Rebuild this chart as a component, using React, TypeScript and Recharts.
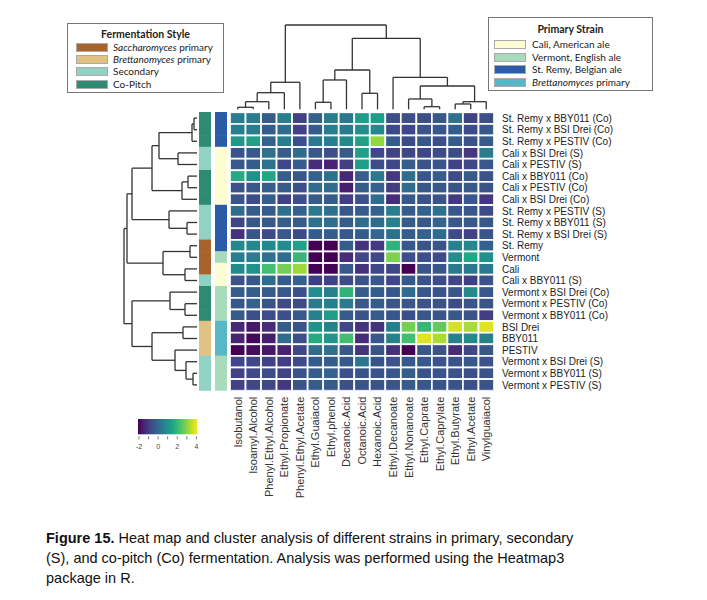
import React from "react";
import { ScatterChart, Scatter, XAxis, YAxis, ReferenceLine } from "recharts";

// heat map columns (compounds) in dendrogram order
const compounds = [
  "Isobutanol", "Isoamyl.Alcohol", "Phenyl.Ethyl.Alcohol", "Ethyl.Propionate",
  "Phenyl.Ethyl.Acetate", "Ethyl.Guaiacol", "Ethyl.phenol", "Decanoic.Acid",
  "Octanoic.Acid", "Hexanoic.Acid", "Ethyl.Decanoate", "Ethyl.Nonanoate",
  "Ethyl.Caprate", "Ethyl.Caprylate", "Ethyl.Butyrate", "Ethyl.Acetate", "Vinylguaiacol",
];

// heat map rows (samples), top to bottom
const samples = [
  "St. Remy x BBY011 (Co)", "St. Remy x BSI Drei (Co)", "St. Remy x PESTIV (Co)",
  "Cali x BSI Drei (S)", "Cali x PESTIV (S)", "Cali x BBY011 (Co)", "Cali x PESTIV (Co)",
  "Cali x BSI Drei (Co)", "St. Remy x PESTIV (S)", "St. Remy x BBY011 (S)",
  "St. Remy x BSI Drei (S)", "St. Remy", "Vermont", "Cali", "Cali x BBY011 (S)",
  "Vermont x BSI Drei (Co)", "Vermont x PESTIV (Co)", "Vermont x BBY011 (Co)",
  "BSI Drei", "BBY011", "PESTIV", "Vermont x BSI Drei (S)", "Vermont x BBY011 (S)",
  "Vermont x PESTIV (S)",
];

const styleOf = [
  "co", "co", "co", "sec", "sec", "co", "co", "co", "sec", "sec", "sec",
  "sac", "sac", "sac", "sec", "co", "co", "co", "brett", "brett", "brett",
  "sec", "sec", "sec",
];

const strainOf = [
  "remy", "remy", "remy", "cali", "cali", "cali", "cali", "cali", "remy", "remy",
  "remy", "remy", "vermont", "cali", "cali", "vermont", "vermont", "vermont",
  "brett", "brett", "brett", "vermont", "vermont", "vermont",
];

// scaled values, one row per sample, one column per compound
const zScores: number[][] = [
  [0.5, 0.5, -0.3, 0.5, -0.9, -0.2, 0.5, 0.4, 1.3, 1.3, -0.6, -0.6, -0.6, -0.4, 0.2, -0.9, -0.6],
  [0.5, 0.5, -0.3, 0.1, -0.9, -0.3, 0.5, 0.4, 0.9, 0.8, -0.7, -0.8, -0.5, -0.4, -0.3, -0.7, -0.4],
  [1.2, 1.4, -0.2, 0.5, -0.6, 0.4, 0.5, 0.8, 1.4, 3.1, -0.3, -0.7, -0.4, -0.6, -0.3, -0.5, -0.3],
  [-0.5, -0.4, 0.2, -0.3, 0.1, -0.4, -0.6, -0.3, 1.4, -0.8, -0.9, -0.8, -0.8, -0.7, -0.7, -1.1, 0.5],
  [-0.4, -0.3, 0.2, -0.8, -0.3, -1.3, -1.5, -1.0, 1.3, -0.7, -0.8, -0.3, -0.5, -0.5, -0.9, -0.8, -0.4],
  [1.7, 1.0, 1.5, -0.3, -0.4, -0.2, 0.2, -1.4, -0.3, 0.4, -1.1, 0.1, -0.4, -0.3, -0.7, -0.3, -0.5],
  [-0.5, -0.4, -0.3, -0.3, -0.6, 0.1, 0.1, -1.6, -0.3, -0.2, -1.0, 0.1, -0.4, -0.4, -0.5, -0.4, -0.5],
  [-0.5, -0.7, -0.3, -0.9, -0.6, -0.3, -0.3, -1.0, -0.5, 0.1, -1.3, -0.4, -0.5, -0.5, -1.1, -0.4, -1.1],
  [0.1, -0.3, -0.3, 0.2, -0.2, 0.4, 0.2, -0.4, -0.3, -0.2, 0.5, -0.3, -0.2, 0.2, -0.4, -0.4, -0.7],
  [-0.8, -0.4, -0.4, -0.3, -0.3, 0.2, 0.1, -0.3, 0.1, 0.1, 0.6, -0.3, -0.4, -0.1, -0.4, -0.4, -0.4],
  [-1.2, -0.5, -0.7, -0.4, -0.7, -0.3, -0.3, -0.4, -0.3, -0.1, 0.2, -0.3, -0.2, 0.1, -0.7, -0.9, -0.5],
  [0.8, 0.8, 0.8, 0.9, 1.4, -2.3, -2.3, -0.3, -1.2, -1.1, 1.9, -0.4, -0.5, -0.5, 0.6, 0.8, -0.2],
  [0.5, 0.5, 0.2, 0.1, 2.0, -2.3, -2.3, -1.3, -0.8, -0.8, 2.9, -0.6, -0.6, -0.7, 0.9, 1.6, 1.0],
  [0.8, 1.0, 2.2, 2.8, 3.2, -2.3, -2.3, -0.4, -1.2, -0.8, -0.8, -2.2, -0.5, -0.5, 0.4, 0.4, 0.4],
  [-0.5, -0.4, 0.1, -0.3, -0.2, -1.0, -0.9, -0.7, -0.5, -0.4, -0.8, -0.4, -0.5, -0.7, -0.8, -1.0, -0.5],
  [-0.3, -0.3, -0.3, -0.4, -0.6, 0.9, 0.5, 1.9, -0.3, -0.3, -0.4, 0.1, -0.4, -0.5, -0.4, 0.8, -0.4],
  [-0.4, -0.2, -0.5, -0.7, -0.7, 0.4, 0.5, 0.4, -0.4, -0.3, -0.5, -0.4, -0.5, -0.5, -0.7, -0.5, -0.5],
  [-0.3, -0.6, -0.7, -0.6, -0.4, 0.6, 1.3, -0.3, -0.5, -0.3, -0.4, -0.6, -0.4, -0.5, -0.4, -0.5, -1.0],
  [-1.4, -1.7, -1.3, -0.3, -0.5, 1.0, 0.6, -0.8, -1.2, -1.2, 0.5, 2.8, 2.0, 2.6, 3.7, 3.3, 3.8],
  [-1.5, -2.0, -1.6, 0.1, -0.6, 1.7, 1.1, 2.2, -1.3, -0.4, 0.6, 2.2, 3.8, 3.3, 0.6, 0.8, 0.6],
  [-2.1, -1.9, -1.7, -1.5, -0.8, 0.1, 0.2, -0.4, -1.2, -0.5, -1.2, -2.1, -0.4, -0.5, -1.3, -0.8, -0.4],
  [-0.8, -0.8, -0.9, -1.0, -0.7, -0.3, -0.3, -0.4, 0.3, -0.5, -0.5, -0.4, -0.4, -0.5, -0.5, -0.4, -0.5],
  [-0.9, -0.8, -0.7, -0.9, -0.5, -0.3, -0.2, -0.6, -0.5, -0.5, -0.4, -0.3, -0.5, -0.5, -0.5, -0.6, -0.5],
  [-0.9, -0.8, -0.8, -1.1, -0.5, -0.3, -0.3, -0.6, -0.5, -0.5, -0.5, -0.3, -0.4, -0.5, -0.5, -0.6, -0.5],
];

// hclust-style merges: negative = leaf (1-based), positive = earlier merge; [a, b, height]
const rowMerges: [number, number, number][] = [
  [-1, -2, 3], [1, -3, 5], [-4, -5, 19], [2, 3, 38], [-6, -7, 9], [5, -8, 15],
  [4, 6, 45], [-10, -11, 10], [-9, 8, 28], [7, 9, 65], [-12, -13, 7], [-14, -15, 12],
  [11, 12, 34], [-17, -18, 12], [-16, 14, 27], [-19, -20, 14], [-23, -24, 4],
  [-22, 17, 11], [-21, 18, 22], [16, 19, 45], [15, 20, 65], [10, 13, 70], [22, 21, 73],
];

const colMerges: [number, number, number][] = [
  [-1, -2, 2], [1, -3, 7.6], [2, -4, 16.6], [3, -5, 27], [-6, -7, 7], [5, -8, 29.3],
  [-9, -10, 16], [6, 7, 39.3], [-13, -14, 2.6], [-12, 9, 10.3], [-15, -16, 5.3],
  [11, -17, 7.6], [10, 12, 23.3], [-11, 13, 32], [8, 14, 71], [4, 15, 84.3],
];

const colorTicks = [-2, -1, 0, 1, 2, 3, 4];

const styleLegend = [
  { key: "sac", italic: "Saccharomyces", rest: " primary", color: "#a8622b" },
  { key: "brett", italic: "Brettanomyces", rest: " primary", color: "#e2c282" },
  { key: "sec", italic: "", rest: "Secondary", color: "#92d2c5" },
  { key: "co", italic: "", rest: "Co-Pitch", color: "#2f8a74" },
];

const strainLegend = [
  { key: "cali", italic: "", rest: "Cali, American ale", color: "#fdfcd3" },
  { key: "vermont", italic: "", rest: "Vermont, English ale", color: "#a8dbbb" },
  { key: "remy", italic: "", rest: "St. Remy, Belgian ale", color: "#2b5ba8" },
  { key: "brett", italic: "Brettanomyces", rest: " primary", color: "#58b6c7" },
];

const VIRIDIS = [
  "#440154", "#482475", "#414487", "#355f8d", "#2a788e", "#21918c",
  "#22a884", "#44bf70", "#7ad151", "#bddf26", "#fde725",
];
const C_MIN = -2.1;
const C_MAX = 4.1;

function viridis(v: number) {
  const t = Math.max(0, Math.min(1, (v - C_MIN) / (C_MAX - C_MIN)));
  const s = Math.min(t * 10, 9.9999);
  const i = Math.floor(s);
  const f = s - i;
  const a = VIRIDIS[i], b = VIRIDIS[i + 1];
  const ch = (k: number) => {
    const x = parseInt(a.slice(k, k + 2), 16);
    const y = parseInt(b.slice(k, k + 2), 16);
    return Math.round(x + (y - x) * f);
  };
  return `rgb(${ch(1)},${ch(3)},${ch(5)})`;
}

// geometry of the plot area (px)
const CW = 15.53;
const CH = 11.6;
const X_DOMAIN: [number, number] = [-7, 17];
const Y_DOMAIN: [number, number] = [-8, 24];
const ROW_LEAF_X = -2.125;
const COL_LEAF_Y = -0.26;
const FONT = "Liberation Sans, Arial, sans-serif";

function buildDendro(merges: [number, number, number][]) {
  const nodes: { pos: number; h: number }[] = [];
  const segs: [number, number, number, number][] = [];
  const get = (id: number) => (id < 0 ? { pos: -id - 0.5, h: 0 } : nodes[id - 1]);
  merges.forEach(([a, b, h]) => {
    const A = get(a);
    const B = get(b);
    segs.push([A.pos, A.h, A.pos, h], [B.pos, B.h, B.pos, h], [A.pos, h, B.pos, h]);
    nodes.push({ pos: (A.pos + B.pos) / 2, h });
  });
  return segs;
}

const rowSegs = buildDendro(rowMerges).map(([p1, h1, p2, h2]) => [
  { x: ROW_LEAF_X - h1 / CW, y: p1 },
  { x: ROW_LEAF_X - h2 / CW, y: p2 },
]);
const colSegs = buildDendro(colMerges).map(([p1, h1, p2, h2]) => [
  { x: p1, y: COL_LEAF_Y - h1 / CH },
  { x: p2, y: COL_LEAF_Y - h2 / CH },
]);

const cells = zScores.flatMap((row, r) =>
  row.map((v, c) => ({ x: c + 0.5, y: r + 0.5, v }))
);
const styleColor: Record<string, string> = Object.fromEntries(styleLegend.map((d) => [d.key, d.color]));
const strainColor: Record<string, string> = Object.fromEntries(strainLegend.map((d) => [d.key, d.color]));
const styleBar = styleOf.map((k, r) => ({ x: -1.61, y: r + 0.5, fill: styleColor[k] }));
const strainBar = strainOf.map((k, r) => ({ x: -0.58, y: r + 0.5, fill: strainColor[k] }));

const colTicks = compounds.map((_, i) => i + 0.5);
const rowTicks = samples.map((_, i) => i + 0.5);

const ColTick = (props: any) => {
  const { x, y, payload } = props;
  return (
    <text
      x={x}
      y={y}
      transform={`rotate(-90 ${x} ${y})`}
      textAnchor="end"
      dy="0.36em"
      fontSize={11}
      fill="#333"
      fontFamily={FONT}
    >
      {compounds[Math.floor(payload.value)]}
    </text>
  );
};

const RowTick = (props: any) => {
  const { x, y, payload } = props;
  return (
    <text x={x} y={y} dy="0.36em" textAnchor="start" fontSize={10} fill="#222" fontFamily={FONT}>
      {samples[Math.floor(payload.value)]}
    </text>
  );
};

function LegendBox({ title, items, box }: any) {
  return (
    <div
      style={{
        position: "absolute",
        left: box.left,
        top: box.top,
        width: box.width,
        height: box.height,
        border: "1px solid #777",
        boxSizing: "border-box",
        fontFamily: "Lato, sans-serif",
        color: "#222",
      }}
    >
      <div style={{ position: "absolute", left: 0, right: 0, top: box.titleTop, textAlign: "center", fontWeight: 700, fontSize: 10.5 }}>
        {title}
      </div>
      {items.map((d: any, i: number) => (
        <div key={d.key + i} style={{ position: "absolute", left: box.swLeft, top: box.firstTop + i * box.step, display: "flex", alignItems: "center" }}>
          <div style={{ width: 32, height: 9, background: d.color, border: "1px solid #aaa", boxSizing: "border-box" }} />
          <div style={{ marginLeft: box.gap, fontSize: 10, lineHeight: "9px", whiteSpace: "nowrap" }}>
            {d.italic && <i>{d.italic}</i>}
            {d.rest}
          </div>
        </div>
      ))}
    </div>
  );
}

function ColorKey() {
  const left = 138.3, top = 419, w = 59.4, h = 15.3;
  const px = (v: number) => ((v - C_MIN) / (C_MAX - C_MIN)) * w;
  return (
    <svg style={{ position: "absolute", left: left - 6, top }} width={w + 12} height={34}>
      <defs>
        <linearGradient id="vir" x1="0" x2="1" y1="0" y2="0">
          {VIRIDIS.map((c, i) => (
            <stop key={c} offset={i / 10} stopColor={c} />
          ))}
        </linearGradient>
      </defs>
      <rect x={6} y={0} width={w} height={h} fill="url(#vir)" />
      {colorTicks.map((t) => (
        <line key={t} x1={6 + px(t)} x2={6 + px(t)} y1={h + 2} y2={h + 5} stroke="#555" strokeWidth={0.8} />
      ))}
      {colorTicks.filter((t) => t % 2 === 0).map((t) => (
        <text key={t} x={6 + px(t)} y={h + 15} fontSize={7} textAnchor="middle" fill="#444" fontFamily={FONT}>
          {t}
        </text>
      ))}
    </svg>
  );
}

export default function App() {
  return (
    <div style={{ position: "absolute", left: 0, top: 0, width: 707, height: 600, background: "#fff", fontFamily: FONT }}>
      <div style={{ position: "absolute", left: 0, top: 0 }}>
        <ScatterChart width={707} height={520} margin={{ top: 19.5, left: 121.3, right: 63, bottom: 9.3 }}>
          <XAxis
            type="number"
            dataKey="x"
            domain={X_DOMAIN}
            ticks={colTicks}
            interval={0}
            height={120}
            axisLine={false}
            tickLine={false}
            tickMargin={0}
            tick={<ColTick />}
            allowDataOverflow
          />
          <YAxis
            type="number"
            dataKey="y"
            domain={Y_DOMAIN}
            reversed
            orientation="right"
            ticks={rowTicks}
            interval={0}
            width={150}
            axisLine={false}
            tickLine={false}
            tick={<RowTick />}
            allowDataOverflow
          />
          <Scatter
            data={cells}
            isAnimationActive={false}
            shape={(p: any) => (
              <rect
                x={p.cx - CW / 2}
                y={p.cy - CH / 2}
                width={CW}
                height={CH}
                fill={viridis(p.payload?.v ?? p.v)}
                stroke="#fff"
                strokeWidth={1.7}
              />
            )}
          />
          <Scatter
            data={styleBar}
            isAnimationActive={false}
            shape={(p: any) => (
              <rect x={p.cx - 6} y={p.cy - CH / 2 - 0.3} width={12} height={CH + 0.6} fill={p.payload?.fill ?? p.fill} />
            )}
          />
          <Scatter
            data={strainBar}
            isAnimationActive={false}
            shape={(p: any) => (
              <rect x={p.cx - 6} y={p.cy - CH / 2 - 0.3} width={12} height={CH + 0.6} fill={p.payload?.fill ?? p.fill} />
            )}
          />
          {rowSegs.map((s, i) => (
            <ReferenceLine key={"r" + i} segment={s} stroke="#333" strokeWidth={1.3} ifOverflow="visible" />
          ))}
          {colSegs.map((s, i) => (
            <ReferenceLine key={"c" + i} segment={s} stroke="#333" strokeWidth={1.3} ifOverflow="visible" />
          ))}
        </ScatterChart>
      </div>

      <LegendBox
        title="Fermentation Style"
        items={styleLegend}
        box={{ left: 67, top: 23, width: 157, height: 70, titleTop: 4, swLeft: 8, firstTop: 18.5, step: 12.4, gap: 5 }}
      />
      <LegendBox
        title="Primary Strain"
        items={strainLegend}
        box={{ left: 488, top: 17, width: 165, height: 74, titleTop: 5, swLeft: 5, firstTop: 22, step: 12.7, gap: 6 }}
      />
      <ColorKey />

      <div style={{ position: "absolute", left: 46, top: 528, width: 640, fontSize: 14.5, lineHeight: "20px", color: "#111" }}>
        <b>Figure 15.</b> Heat map and cluster analysis of different strains in primary, secondary
        <br />
        (S), and co-pitch (Co) fermentation. Analysis was performed using the Heatmap3
        <br />
        package in R.
      </div>
    </div>
  );
}
